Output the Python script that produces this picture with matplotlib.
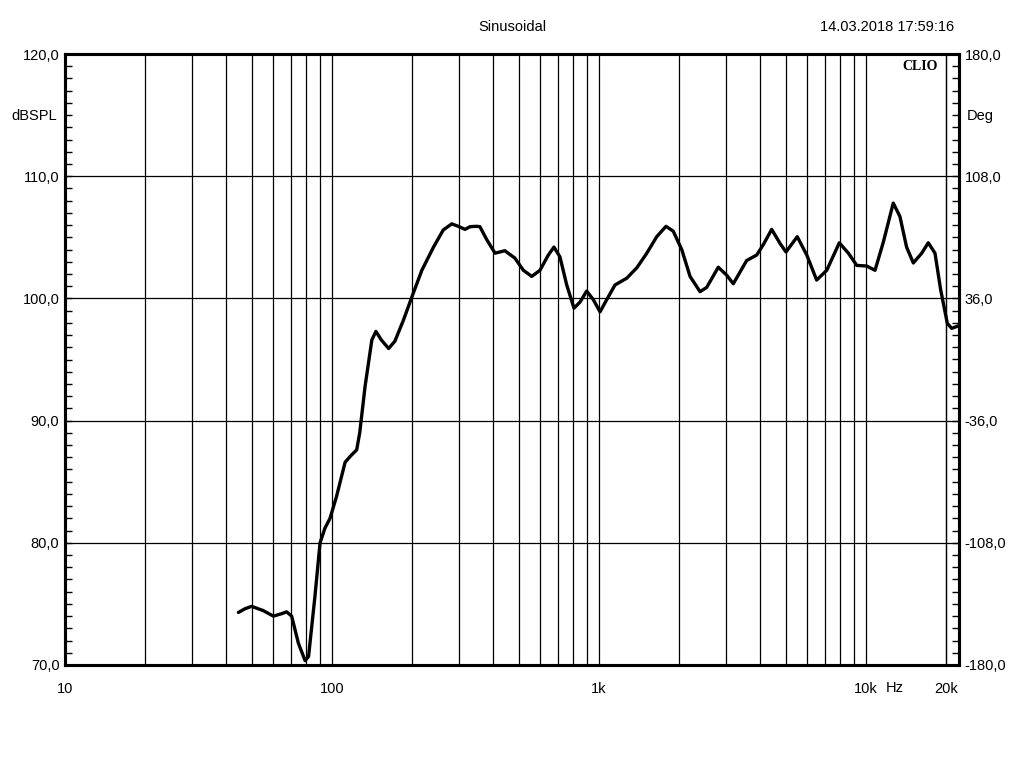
import numpy as np
import matplotlib
matplotlib.use("Agg")
import matplotlib.pyplot as plt
from matplotlib.ticker import FixedLocator, NullFormatter, MultipleLocator

plt.rcParams['font.family'] = ['Liberation Sans Narrow', 'Liberation Sans', 'DejaVu Sans']

# -----------------------------
# Data (frequency in Hz, level in dB SPL)
# -----------------------------
freq = [44.6, 47.2, 50, 55.3, 60.3, 64.8, 67.6, 70.6, 74.8, 79.3, 81.7, 86.3,
        90.2, 94.1, 98.3, 104, 112, 118.5, 123.7, 127, 133, 141, 146, 153,
        163, 172, 185, 199, 217, 240, 261, 281, 297, 315, 329, 348, 358, 380,
        408, 444, 484, 521, 560, 601, 646, 678, 714, 757, 806, 849, 899, 952,
        1009, 1069, 1148, 1270, 1385, 1510, 1645, 1782, 1897, 2041, 2193,
        2390, 2531, 2797, 3008, 3184, 3573, 3897, 4125, 4434, 4764, 5015,
        5528, 6000, 6534, 7129, 7943, 8590, 9236, 10060, 10810, 11610, 12650,
        13400, 14190, 15040, 16170, 17110, 18130, 19040, 20160, 20940, 22180]
spl = [74.3, 74.6, 74.8, 74.45, 74.0, 74.2, 74.35, 74.0, 71.8, 70.35, 70.7, 75.6,
       80.0, 81.2, 82.0, 83.8, 86.6, 87.2, 87.6, 89.0, 92.8, 96.6, 97.3, 96.6,
       95.9, 96.5, 98.2, 100.1, 102.3, 104.2, 105.6, 106.1, 105.9, 105.65, 105.87,
       105.9, 105.87, 104.8, 103.7, 103.9, 103.3, 102.3, 101.8, 102.3, 103.55,
       104.2, 103.4, 101.1, 99.2, 99.7, 100.6, 99.9, 98.9, 99.9, 101.1, 101.65,
       102.5, 103.7, 105.05, 105.9, 105.5, 104.0, 101.8, 100.55, 100.9, 102.55,
       101.9, 101.2, 103.1, 103.55, 104.4, 105.65, 104.5, 103.8, 105.05, 103.55,
       101.5, 102.3, 104.55, 103.7, 102.7, 102.65, 102.3, 104.6, 107.8, 106.7,
       104.2, 102.9, 103.7, 104.55, 103.7, 100.7, 97.96, 97.55, 97.75]

left_ticks = [70, 80, 90, 100, 110, 120]
left_labels = ["70,0", "80,0", "90,0", "100,0", "110,0", "120,0"]
right_ticks = [-180, -108, -36, 36, 108, 180]
right_labels = ["-180,0", "-108,0", "-36,0", "36,0", "108,0", "180,0"]
x_ticks = [10, 100, 1000, 10000, 20000]
x_labels = ["10", "100", "1k", "10k", "20k"]

# -----------------------------
# Figure
# -----------------------------
fig = plt.figure(figsize=(10.24, 7.68), dpi=100)
ax = fig.add_axes([65 / 1024, 1 - 665 / 768, (959 - 65) / 1024, (665 - 54) / 768])
ax.set_xscale('log')
ax.set_xlim(10, 22300)
ax.set_ylim(70, 120)

# vertical grid at 1..9 x decade
grid_f = [m * 10 ** e for e in range(1, 5) for m in range(1, 10)] + [20000]
for g in grid_f:
    if 10 < g <= 20000:
        ax.axvline(g, color='black', lw=0.9, zorder=1)
for v in left_ticks[1:-1]:
    ax.axhline(v, color='black', lw=0.9, zorder=1)

ax.plot(freq, spl, color='black', lw=2.4, zorder=3,
        solid_joinstyle='round', solid_capstyle='round')

for s in ax.spines.values():
    s.set_linewidth(2.2)

ax.xaxis.set_major_locator(FixedLocator(x_ticks))
ax.xaxis.set_minor_locator(FixedLocator([]))
ax.xaxis.set_minor_formatter(NullFormatter())
ax.set_xticklabels(x_labels)
ax.tick_params(axis='x', length=0, labelsize=10.5, pad=12)

ax.set_yticks(left_ticks)
ax.set_yticklabels(left_labels)
ax.yaxis.set_minor_locator(MultipleLocator(1))
ax.tick_params(axis='y', which='both', direction='in', length=5, width=1,
               labelsize=10.5, pad=4)

ax2 = ax.twinx()
ax2.set_ylim(-180, 180)
ax2.set_yticks(right_ticks)
ax2.set_yticklabels(right_labels)
ax2.yaxis.set_minor_locator(MultipleLocator(7.2))
ax2.tick_params(axis='y', which='both', direction='in', length=5, width=1,
                labelsize=10.5, pad=4)
for s in ax2.spines.values():
    s.set_linewidth(2.2)

# texts
fig.text(512 / 1024, 1 - 27 / 768, "Sinusoidal", ha='center', va='center', fontsize=10.5)
fig.text(887 / 1024, 1 - 27 / 768, "14.03.2018 17:59:16", ha='center', va='center', fontsize=10.5)
fig.text(34 / 1024, 1 - 116 / 768, "dBSPL", ha='center', va='center', fontsize=10.5)
fig.text(980 / 1024, 1 - 116 / 768, "Deg", ha='center', va='center', fontsize=10.5)
fig.text(895 / 1024, 1 - 688 / 768, "Hz", ha='center', va='center', fontsize=10.5)
fig.text(920 / 1024, 1 - 66 / 768, "CLIO", ha='center', va='center', fontsize=10,
         fontweight='bold', family=['Liberation Serif', 'DejaVu Serif'])

fig.savefig("out.png", dpi=100)
